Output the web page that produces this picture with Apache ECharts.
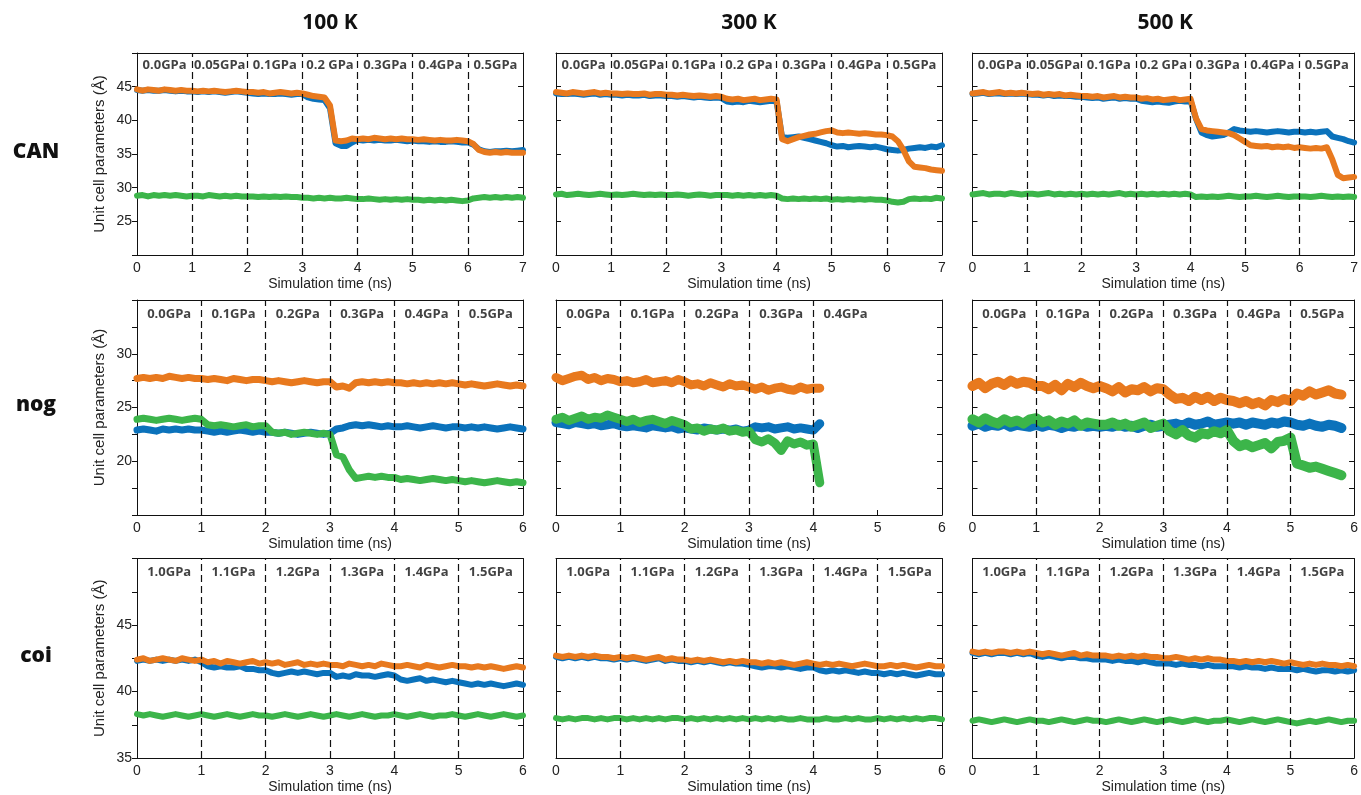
<!DOCTYPE html>
<html><head><meta charset="utf-8">
<script src="https://cdn.jsdelivr.net/npm/echarts/dist/echarts.min.js"></script>
<style>html,body{margin:0;padding:0;background:#fff}#chart{width:1361px;height:795px}</style>
</head><body><div id="chart"></div>
<script>
// ---------- labels ----------
const temps = ['100 K', '300 K', '500 K'];
const rowNames = ['CAN', 'nog', 'coi'];
const canPressures = ['0.0GPa', '0.05GPa', '0.1GPa', '0.2 GPa', '0.3GPa', '0.4GPa', '0.5GPa'];
const nogPressures = ['0.0GPa', '0.1GPa', '0.2GPa', '0.3GPa', '0.4GPa', '0.5GPa'];
const nog300Pressures = ['0.0GPa', '0.1GPa', '0.2GPa', '0.3GPa', '0.4GPa'];
const coiPressures = ['1.0GPa', '1.1GPa', '1.2GPa', '1.3GPa', '1.4GPa', '1.5GPa'];
const xTitle = 'Simulation time (ns)';
const yTitle = 'Unit cell parameters (Å)';
const timeStep = 0.1; // ns between samples

// ---------- CAN 100 K ----------
const can100_a = [44.5,44.4,44.5,44.4,44.4,44.5,44.4,44.3,44.4,44.3,44.3,
 44.2,44.3,44.2,44.3,44.2,44.1,44.2,44.3,44.2,44.1,
 44.0,43.9,44.0,43.9,43.9,44.0,43.9,43.8,43.9,43.9,
 43.4,43.2,43.1,43.0,41.8,36.6,36.2,36.2,36.7,37.1,
 37.0,37.1,37.0,37.1,37.0,37.0,37.1,37.0,36.9,37.0,
 36.9,36.9,36.8,36.9,36.8,36.8,36.9,36.8,36.7,36.7,
 36.4,35.7,35.4,35.3,35.4,35.4,35.5,35.4,35.5,35.6];
const can100_b = [44.6,44.4,44.6,44.5,44.4,44.6,44.5,44.4,44.5,44.4,44.4,
 44.3,44.4,44.3,44.4,44.3,44.2,44.3,44.4,44.3,44.2,
 44.2,44.1,44.2,44.0,44.1,44.2,44.1,44.0,44.1,44.0,
 43.8,43.6,43.5,43.4,42.2,37.0,36.9,37.0,37.3,37.2,
 37.3,37.2,37.4,37.3,37.2,37.3,37.2,37.3,37.2,37.2,
 37.1,37.2,37.1,37.0,37.1,37.0,37.0,37.1,37.0,36.9,
 36.5,35.6,35.3,35.2,35.3,35.2,35.3,35.2,35.2,35.2];
const can100_c = [28.8,28.9,28.7,28.9,28.8,28.9,28.8,28.9,28.8,28.7,28.8,
 28.8,28.7,28.9,28.8,28.7,28.8,28.7,28.8,28.7,28.7,
 28.7,28.6,28.7,28.6,28.7,28.6,28.7,28.6,28.6,28.5,
 28.5,28.4,28.5,28.4,28.5,28.4,28.4,28.5,28.4,28.3,
 28.3,28.4,28.3,28.2,28.3,28.2,28.3,28.2,28.3,28.2,
 28.2,28.1,28.2,28.1,28.2,28.1,28.2,28.1,28.0,28.1,
 28.4,28.5,28.6,28.5,28.6,28.5,28.6,28.5,28.6,28.5];

// ---------- CAN 300 K ----------
const can300_a = [44.0,43.9,43.9,44.0,43.9,43.8,43.9,44.0,43.8,43.9,43.8,
 43.8,43.7,43.8,43.7,43.7,43.8,43.6,43.7,43.7,43.6,
 43.6,43.5,43.6,43.5,43.4,43.5,43.4,43.3,43.4,43.3,
 42.8,42.7,42.8,42.7,42.9,42.8,42.7,42.8,42.9,42.8,
 37.5,37.4,37.5,37.6,37.4,37.2,37.0,36.8,36.6,36.3,
 36.1,36.2,36.0,36.1,36.2,36.1,36.0,36.1,35.9,35.7,
 35.6,35.5,35.6,35.8,35.9,36.0,35.9,36.1,36.0,36.3];
const can300_b = [44.2,44.1,44.0,44.2,44.1,44.0,44.1,44.2,44.0,44.1,44.0,
 44.0,43.9,44.0,43.9,43.9,44.0,43.8,43.9,43.9,43.8,
 43.8,43.7,43.8,43.7,43.6,43.7,43.6,43.5,43.6,43.5,
 43.2,43.1,43.2,43.0,43.1,43.2,43.0,43.1,43.2,43.1,
 37.2,36.9,37.2,37.5,37.7,37.9,38.0,38.2,38.4,38.5,
 38.2,38.1,38.2,38.1,38.0,38.1,38.0,37.9,37.9,37.8,
 37.6,36.9,35.6,33.9,33.1,33.0,32.9,32.7,32.6,32.5];
const can300_c = [29.0,29.1,28.9,29.0,29.1,29.0,28.9,29.0,29.1,29.0,28.9,
 29.0,28.9,29.0,29.1,29.0,28.9,29.0,28.9,29.0,28.9,
 28.9,29.0,28.9,28.8,28.9,29.0,28.9,28.8,28.9,28.9,
 28.9,28.8,28.9,28.8,28.9,28.8,28.9,28.8,28.9,28.8,
 28.4,28.3,28.4,28.3,28.4,28.3,28.4,28.3,28.4,28.2,
 28.3,28.2,28.3,28.2,28.3,28.2,28.3,28.2,28.2,28.1,
 27.9,27.8,27.9,28.3,28.4,28.3,28.4,28.3,28.5,28.4];

// ---------- CAN 500 K ----------
const can500_a = [43.9,44.0,44.1,43.9,44.0,44.0,43.9,44.0,43.9,44.0,43.9,
 43.8,43.8,43.7,43.8,43.6,43.7,43.6,43.6,43.5,43.5,
 43.4,43.3,43.4,43.2,43.3,43.4,43.2,43.3,43.2,43.2,
 42.9,42.8,42.7,42.8,42.7,42.6,42.8,42.9,42.8,42.9,
 40.2,38.2,37.8,37.6,37.7,37.8,38.2,38.7,38.5,38.4,
 38.3,38.4,38.3,38.2,38.3,38.4,38.3,38.2,38.3,38.3,
 38.2,38.3,38.2,38.3,38.4,37.6,37.4,37.2,36.9,36.7];
const can500_b = [44.0,44.1,44.2,44.0,44.1,44.2,44.0,44.1,44.0,44.1,44.0,
 43.9,44.0,43.8,43.9,43.8,43.9,43.7,43.8,43.7,43.6,
 43.6,43.5,43.6,43.4,43.5,43.6,43.4,43.5,43.4,43.4,
 43.2,43.3,43.1,43.2,43.0,43.1,43.2,43.0,43.1,43.2,
 40.3,38.7,38.5,38.4,38.3,38.2,38.1,37.8,37.3,36.8,
 36.3,36.2,36.1,36.2,36.0,36.1,36.0,36.1,35.9,36.0,
 35.9,35.8,35.9,35.8,36.0,34.2,31.9,31.4,31.5,31.6];
const can500_c = [29.0,29.1,29.2,29.0,29.1,29.1,29.0,29.2,29.1,29.0,29.1,
 29.1,29.0,29.1,29.2,29.0,29.1,29.0,29.1,29.0,29.1,
 29.0,29.1,29.0,29.1,29.0,29.1,29.2,29.0,29.1,29.0,
 29.1,29.0,29.1,29.0,29.1,29.0,29.1,29.0,29.1,29.0,
 28.6,28.7,28.6,28.7,28.6,28.7,28.8,28.7,28.6,28.7,
 28.7,28.8,28.7,28.6,28.7,28.8,28.7,28.6,28.7,28.7,
 28.7,28.6,28.7,28.8,28.7,28.6,28.7,28.6,28.7,28.6];

// ---------- nog 100 K ----------
const nog100_a = [22.9,23.0,22.9,22.8,23.0,22.9,23.0,22.9,23.0,22.9,22.9,
 22.8,22.7,22.8,22.7,22.8,22.9,22.8,22.7,22.8,22.7,
 22.7,22.6,22.7,22.6,22.5,22.6,22.7,22.6,22.5,22.6,
 23.0,23.1,23.3,23.4,23.3,23.4,23.3,23.2,23.3,23.2,
 23.2,23.3,23.2,23.1,23.2,23.3,23.2,23.1,23.2,23.2,
 23.1,23.2,23.1,23.2,23.1,23.0,23.1,23.2,23.1,23.0];
const nog100_b = [27.7,27.8,27.7,27.8,27.7,27.9,27.8,27.7,27.8,27.7,27.7,
 27.6,27.7,27.6,27.5,27.7,27.6,27.5,27.6,27.6,27.5,
 27.4,27.5,27.4,27.3,27.4,27.5,27.4,27.3,27.4,27.4,
 26.9,27.0,26.8,27.3,27.4,27.3,27.4,27.3,27.4,27.3,
 27.3,27.2,27.3,27.2,27.3,27.2,27.3,27.2,27.3,27.2,
 27.1,27.2,27.1,27.0,27.1,27.2,27.1,27.0,27.1,27.0];
const nog100_c = [23.9,24.0,23.9,23.8,23.9,24.0,23.9,23.8,23.9,24.0,23.9,
 23.4,23.3,23.4,23.3,23.2,23.3,23.4,23.2,23.3,23.3,
 22.7,22.6,22.7,22.5,22.6,22.7,22.6,22.5,22.6,22.5,
 20.6,20.4,19.2,18.4,18.5,18.6,18.5,18.6,18.5,18.5,
 18.3,18.4,18.3,18.2,18.3,18.4,18.3,18.2,18.3,18.2,
 18.1,18.2,18.1,18.0,18.1,18.2,18.1,18.0,18.1,18.0];

// ---------- nog 300 K (run ends at 4.1 ns) ----------
const nog300_a = [23.6,23.5,23.4,23.6,23.5,23.4,23.5,23.3,23.4,23.5,23.3,
 23.2,23.3,23.2,23.1,23.3,23.2,23.1,23.2,23.0,23.1,
 23.0,22.9,23.1,23.0,22.9,23.0,22.9,23.0,22.8,22.9,
 23.2,23.1,23.2,23.0,23.1,23.2,23.0,23.1,23.0,22.9,
 23.5];
const nog300_b = [27.8,27.5,27.7,27.9,28.0,27.6,27.8,27.5,27.7,27.6,27.4,
 27.5,27.3,27.4,27.6,27.3,27.4,27.5,27.3,27.6,27.4,
 27.1,27.2,27.0,27.3,27.1,26.9,27.2,27.0,27.1,26.9,
 26.7,26.9,26.6,26.8,26.9,26.7,26.6,26.9,26.7,26.8,
 26.8];
const nog300_c = [23.9,24.1,23.8,24.0,24.2,23.9,24.1,24.0,24.3,24.1,23.9,
 23.7,23.9,23.6,23.8,23.9,23.7,23.5,23.8,23.6,23.4,
 23.0,23.1,22.8,23.0,22.9,23.1,22.8,22.9,22.7,22.8,
 22.0,21.8,22.1,21.7,21.0,21.9,21.6,21.8,21.5,21.6,
 18.0];

// ---------- nog 500 K (run ends at 5.8 ns) ----------
const nog500_a = [23.3,23.5,23.2,23.4,23.3,23.5,23.2,23.4,23.3,23.2,23.4,
 23.2,23.4,23.3,23.1,23.3,23.2,23.4,23.2,23.3,23.2,
 23.3,23.2,23.4,23.2,23.3,23.1,23.3,23.4,23.2,23.3,
 23.4,23.5,23.3,23.6,23.4,23.5,23.7,23.4,23.5,23.6,
 23.5,23.6,23.4,23.6,23.5,23.4,23.6,23.5,23.7,23.6,
 23.4,23.3,23.5,23.3,23.2,23.4,23.3,23.1];
const nog500_b = [27.0,27.3,26.8,27.2,27.4,27.1,27.5,27.2,27.4,27.3,27.0,
 27.0,26.7,27.1,26.6,27.2,26.9,27.3,27.0,26.8,27.0,
 26.8,26.5,26.9,26.4,26.7,26.6,26.9,26.5,26.8,26.7,
 26.2,25.8,25.9,25.6,26.0,25.7,26.0,25.6,25.9,25.7,
 25.6,25.4,25.6,25.3,25.5,25.2,25.7,25.5,25.8,25.6,
 26.3,26.1,26.5,26.2,26.4,26.6,26.3,26.2];
const nog500_c = [23.9,23.6,24.0,23.7,23.5,23.9,23.6,23.8,23.5,23.9,24.0,
 23.6,23.8,23.4,23.7,23.5,23.8,23.3,23.6,23.5,23.4,
 23.4,23.6,23.3,23.5,23.2,23.4,23.6,23.1,23.3,23.5,
 22.8,22.5,22.9,22.4,22.2,22.6,22.5,22.8,22.6,22.9,
 21.9,21.4,21.6,21.3,21.5,21.7,21.2,21.8,21.9,22.2,
 19.8,19.6,19.4,19.5,19.3,19.1,18.9,18.7];

// ---------- coi 100 K ----------
const coi100_a = [42.3,42.4,42.3,42.4,42.3,42.4,42.3,42.4,42.3,42.4,42.2,
 41.9,41.8,41.9,41.8,41.8,41.9,41.7,41.7,41.6,41.6,
 41.4,41.3,41.4,41.5,41.4,41.5,41.4,41.3,41.4,41.4,
 41.1,41.2,41.1,41.3,41.2,41.2,41.1,41.2,41.3,41.2,
 40.9,40.8,40.9,41.0,40.8,40.9,40.8,40.7,40.8,40.7,
 40.6,40.5,40.6,40.5,40.6,40.5,40.4,40.5,40.6,40.5];
const coi100_b = [42.4,42.5,42.3,42.4,42.5,42.4,42.3,42.5,42.4,42.3,42.4,
 42.2,42.3,42.1,42.3,42.2,42.1,42.2,42.3,42.1,42.2,
 42.1,42.2,42.0,42.1,42.2,42.0,42.1,42.0,42.1,42.0,
 42.0,41.9,42.1,42.0,41.9,42.0,41.9,42.1,42.0,41.9,
 41.9,42.0,41.9,41.8,42.0,41.9,41.8,41.9,42.0,41.9,
 41.9,41.8,41.9,41.8,41.9,41.8,41.7,41.8,41.9,41.8];
const coi100_c = [38.3,38.2,38.3,38.2,38.1,38.2,38.3,38.2,38.1,38.2,38.3,
 38.2,38.1,38.2,38.3,38.2,38.1,38.2,38.3,38.2,38.2,
 38.1,38.2,38.3,38.2,38.1,38.2,38.3,38.2,38.1,38.2,
 38.3,38.2,38.1,38.2,38.3,38.2,38.1,38.2,38.2,38.3,
 38.2,38.1,38.2,38.3,38.2,38.1,38.2,38.2,38.3,38.2,
 38.1,38.2,38.3,38.2,38.1,38.2,38.3,38.2,38.1,38.2];

// ---------- coi 300 K ----------
const coi300_a = [42.6,42.5,42.6,42.5,42.6,42.5,42.6,42.5,42.5,42.4,42.5,
 42.4,42.5,42.4,42.3,42.4,42.5,42.3,42.4,42.3,42.3,
 42.2,42.3,42.2,42.3,42.2,42.1,42.2,42.1,42.1,42.0,
 41.9,41.8,41.9,41.9,41.8,41.9,41.8,41.7,41.8,41.8,
 41.6,41.5,41.6,41.5,41.6,41.5,41.4,41.5,41.4,41.4,
 41.3,41.4,41.3,41.4,41.3,41.2,41.3,41.4,41.3,41.3];
const coi300_b = [42.7,42.6,42.7,42.6,42.7,42.6,42.7,42.6,42.6,42.5,42.6,
 42.5,42.6,42.5,42.4,42.5,42.6,42.4,42.5,42.4,42.4,
 42.3,42.4,42.3,42.4,42.3,42.2,42.3,42.2,42.3,42.2,
 42.2,42.1,42.2,42.1,42.2,42.1,42.0,42.1,42.2,42.1,
 42.0,42.1,42.0,42.1,42.0,41.9,42.0,42.1,42.0,41.9,
 41.9,42.0,41.9,42.0,41.9,41.8,41.9,42.0,41.9,41.9];
const coi300_c = [38.0,37.9,38.0,37.9,38.0,38.0,37.9,38.0,37.9,38.0,38.0,
 37.9,38.0,37.9,38.0,37.9,38.0,37.9,38.0,38.0,37.9,
 38.0,37.9,38.0,37.9,38.0,37.9,38.0,37.9,38.0,37.9,
 38.0,37.9,38.0,37.9,38.0,37.9,37.9,38.0,37.9,37.9,
 37.9,38.0,37.9,37.9,38.0,37.9,38.0,37.9,37.9,38.0,
 37.9,38.0,37.9,38.0,37.9,38.0,37.9,38.0,38.0,37.9];

// ---------- coi 500 K ----------
const coi500_a = [42.9,42.8,42.9,42.8,42.9,42.9,42.8,42.9,42.8,42.9,42.7,
 42.6,42.7,42.6,42.5,42.6,42.6,42.5,42.5,42.4,42.4,
 42.4,42.3,42.4,42.3,42.3,42.2,42.3,42.2,42.1,42.1,
 42.1,42.0,42.1,42.0,42.0,41.9,42.0,41.9,41.9,41.9,
 41.9,41.8,41.9,41.8,41.8,41.7,41.8,41.7,41.7,41.7,
 41.6,41.7,41.6,41.5,41.6,41.6,41.5,41.6,41.5,41.6];
const coi500_b = [43.0,42.9,43.0,42.9,43.0,43.0,42.9,43.0,42.9,43.0,42.9,
 42.8,42.9,42.8,42.7,42.8,42.9,42.7,42.8,42.7,42.7,
 42.7,42.6,42.7,42.6,42.7,42.6,42.7,42.6,42.6,42.5,
 42.5,42.6,42.5,42.4,42.5,42.4,42.5,42.4,42.4,42.3,
 42.3,42.2,42.3,42.2,42.3,42.2,42.3,42.2,42.1,42.2,
 42.1,42.0,42.1,42.0,42.1,42.0,42.0,41.9,42.0,41.9];
const coi500_c = [37.8,37.9,37.8,37.7,37.8,37.9,37.8,37.7,37.8,37.9,37.8,
 37.8,37.7,37.8,37.9,37.8,37.7,37.8,37.9,37.8,37.8,
 37.7,37.8,37.9,37.8,37.7,37.8,37.9,37.8,37.7,37.8,
 37.9,37.8,37.7,37.8,37.9,37.8,37.7,37.8,37.8,37.9,
 37.8,37.7,37.8,37.9,37.8,37.7,37.8,37.9,37.8,37.7,
 37.6,37.7,37.8,37.7,37.8,37.9,37.8,37.7,37.8,37.8];

// ---------- y-axis ranges per row ----------
const rowYMin = [20, 15, 35];
const rowYMax = [50, 35, 50];
const rowYStep = [5, 2.5, 2.5];
const rowYLabels = [[25, 30, 35, 40, 45], [20, 25, 30], [35, 40, 45]];
const rowXMax = [7, 6, 6];

// ---------- build ----------
const panels = [
  {r:0,c:0,p:canPressures,a:can100_a,b:can100_b,d:can100_c},
  {r:0,c:1,p:canPressures,a:can300_a,b:can300_b,d:can300_c},
  {r:0,c:2,p:canPressures,a:can500_a,b:can500_b,d:can500_c},
  {r:1,c:0,p:nogPressures,a:nog100_a,b:nog100_b,d:nog100_c},
  {r:1,c:1,p:nog300Pressures,a:nog300_a,b:nog300_b,d:nog300_c},
  {r:1,c:2,p:nogPressures,a:nog500_a,b:nog500_b,d:nog500_c},
  {r:2,c:0,p:coiPressures,a:coi100_a,b:coi100_b,d:coi100_c},
  {r:2,c:1,p:coiPressures,a:coi300_a,b:coi300_b,d:coi300_c},
  {r:2,c:2,p:coiPressures,a:coi500_a,b:coi500_b,d:coi500_c}
];
const colLeft = [137, 556, 972.5];
const colWidth = [386, 386, 385.5];
const rowTop = [53, 300, 558.5];
const rowHeight = [202, 215, 202.5];
const labelOffset = [12, 14, 14];
const lineW = [[6,6,6],[7,9,10],[6,6,6]];
const C_BLUE = '#0B72BB', C_ORANGE = '#E8791E', C_GREEN = '#3CB54A';
const tickFont = 'Liberation Sans, Arial, sans-serif';
const boldFont = 'Open Sans, Lato, sans-serif';

const grids = [], xAxes = [], yAxes = [], series = [], graphics = [];
const toXY = arr => arr.map((v, i) => [+(i * timeStep).toFixed(2), v]);

panels.forEach((P, g) => {
  const r = P.r, c = P.c;
  grids.push({left: colLeft[c], top: rowTop[r], width: colWidth[c], height: rowHeight[r], containLabel: false});
  const xBase = {gridIndex: g, type: 'value', min: 0, max: rowXMax[r], interval: 1,
    axisLine: {show: true, onZero: false, lineStyle: {color: '#111', width: 1}},
    splitLine: {show: false}};
  xAxes.push(Object.assign({}, xBase, {position: 'bottom',
    axisTick: {show: true, inside: true, length: 5, lineStyle: {color: '#111'}},
    axisLabel: {show: true, margin: 6, fontSize: 14, color: '#222', fontFamily: tickFont},
    name: xTitle, nameLocation: 'middle', nameGap: 22,
    nameTextStyle: {fontSize: 14, color: '#222', fontFamily: tickFont}}));
  xAxes.push(Object.assign({}, xBase, {position: 'top', axisTick: {show: false}, axisLabel: {show: false}}));
  const labs = rowYLabels[r];
  const yBase = {gridIndex: g, type: 'value', min: rowYMin[r], max: rowYMax[r], interval: rowYStep[r],
    axisLine: {show: true, onZero: false, lineStyle: {color: '#111', width: 1}},
    splitLine: {show: false}};
  const yl = Object.assign({}, yBase, {position: 'left',
    axisTick: {show: true, inside: c !== 0, length: 5, lineStyle: {color: '#111'}},
    axisLabel: {show: c === 0, margin: 5, fontSize: 14, color: '#222', fontFamily: tickFont,
      formatter: v => labs.indexOf(v) >= 0 ? String(v) : ''}});
  if (c === 0) {
    Object.assign(yl, {name: yTitle, nameLocation: 'middle', nameRotate: 90, nameGap: 30,
      nameTextStyle: {fontSize: 15, color: '#222', fontFamily: tickFont}});
  }
  yAxes.push(yl);
  yAxes.push(Object.assign({}, yBase, {position: 'right',
    axisTick: {show: true, inside: true, length: 5, lineStyle: {color: '#111'}},
    axisLabel: {show: false}}));

  const xi = 2 * g, yi = 2 * g;
  const w = lineW[r][c];
  [[P.a, C_BLUE, 'a'], [P.b, C_ORANGE, 'b'], [P.d, C_GREEN, 'c']].forEach(([arr, col, nm]) => {
    series.push({type: 'line', name: nm, xAxisIndex: xi, yAxisIndex: yi, data: toXY(arr),
      showSymbol: false, symbol: 'none', silent: true,
      lineStyle: {color: col, width: w, join: 'round', cap: 'round'}});
  });
  // pressure labels and segment dividers
  const centers = P.p.map((t, i) => ({value: [i + 0.5, rowYMax[r]], label: {formatter: t}}));
  const dividers = P.p.slice(1).map((t, i) => ({xAxis: i + 1}));
  series.push({type: 'scatter', xAxisIndex: xi, yAxisIndex: yi, data: centers, symbolSize: 0,
    clip: false, silent: true, z: 10,
    label: {show: true, position: 'inside', offset: [0, labelOffset[r]], fontSize: 13, fontWeight: 'bold',
      color: '#111', fontFamily: boldFont},
    markLine: {silent: true, symbol: 'none', label: {show: false}, animation: false,
      lineStyle: {color: '#111', type: [7, 4], width: 1.2}, data: dividers}});
});

temps.forEach((t, i) => {
  graphics.push({type: 'text', x: colLeft[i] + colWidth[i] / 2, y: 23,
    style: {text: t, font: 'bold 21px ' + boldFont, fill: '#111', align: 'center', verticalAlign: 'middle',
      textAlign: 'center', textVerticalAlign: 'middle'}});
});
const rowLabelY = [152, 405, 656];
rowNames.forEach((t, i) => {
  graphics.push({type: 'text', x: 36, y: rowLabelY[i],
    style: {text: t, font: '800 21px ' + boldFont, fill: '#111', align: 'center', verticalAlign: 'middle',
      textAlign: 'center', textVerticalAlign: 'middle'}});
});

const chart = echarts.init(document.getElementById('chart'), null, {renderer: 'canvas'});
chart.setOption({animation: false, backgroundColor: '#fff', grid: grids, xAxis: xAxes, yAxis: yAxes,
  series: series, graphic: graphics});
</script></body></html>
